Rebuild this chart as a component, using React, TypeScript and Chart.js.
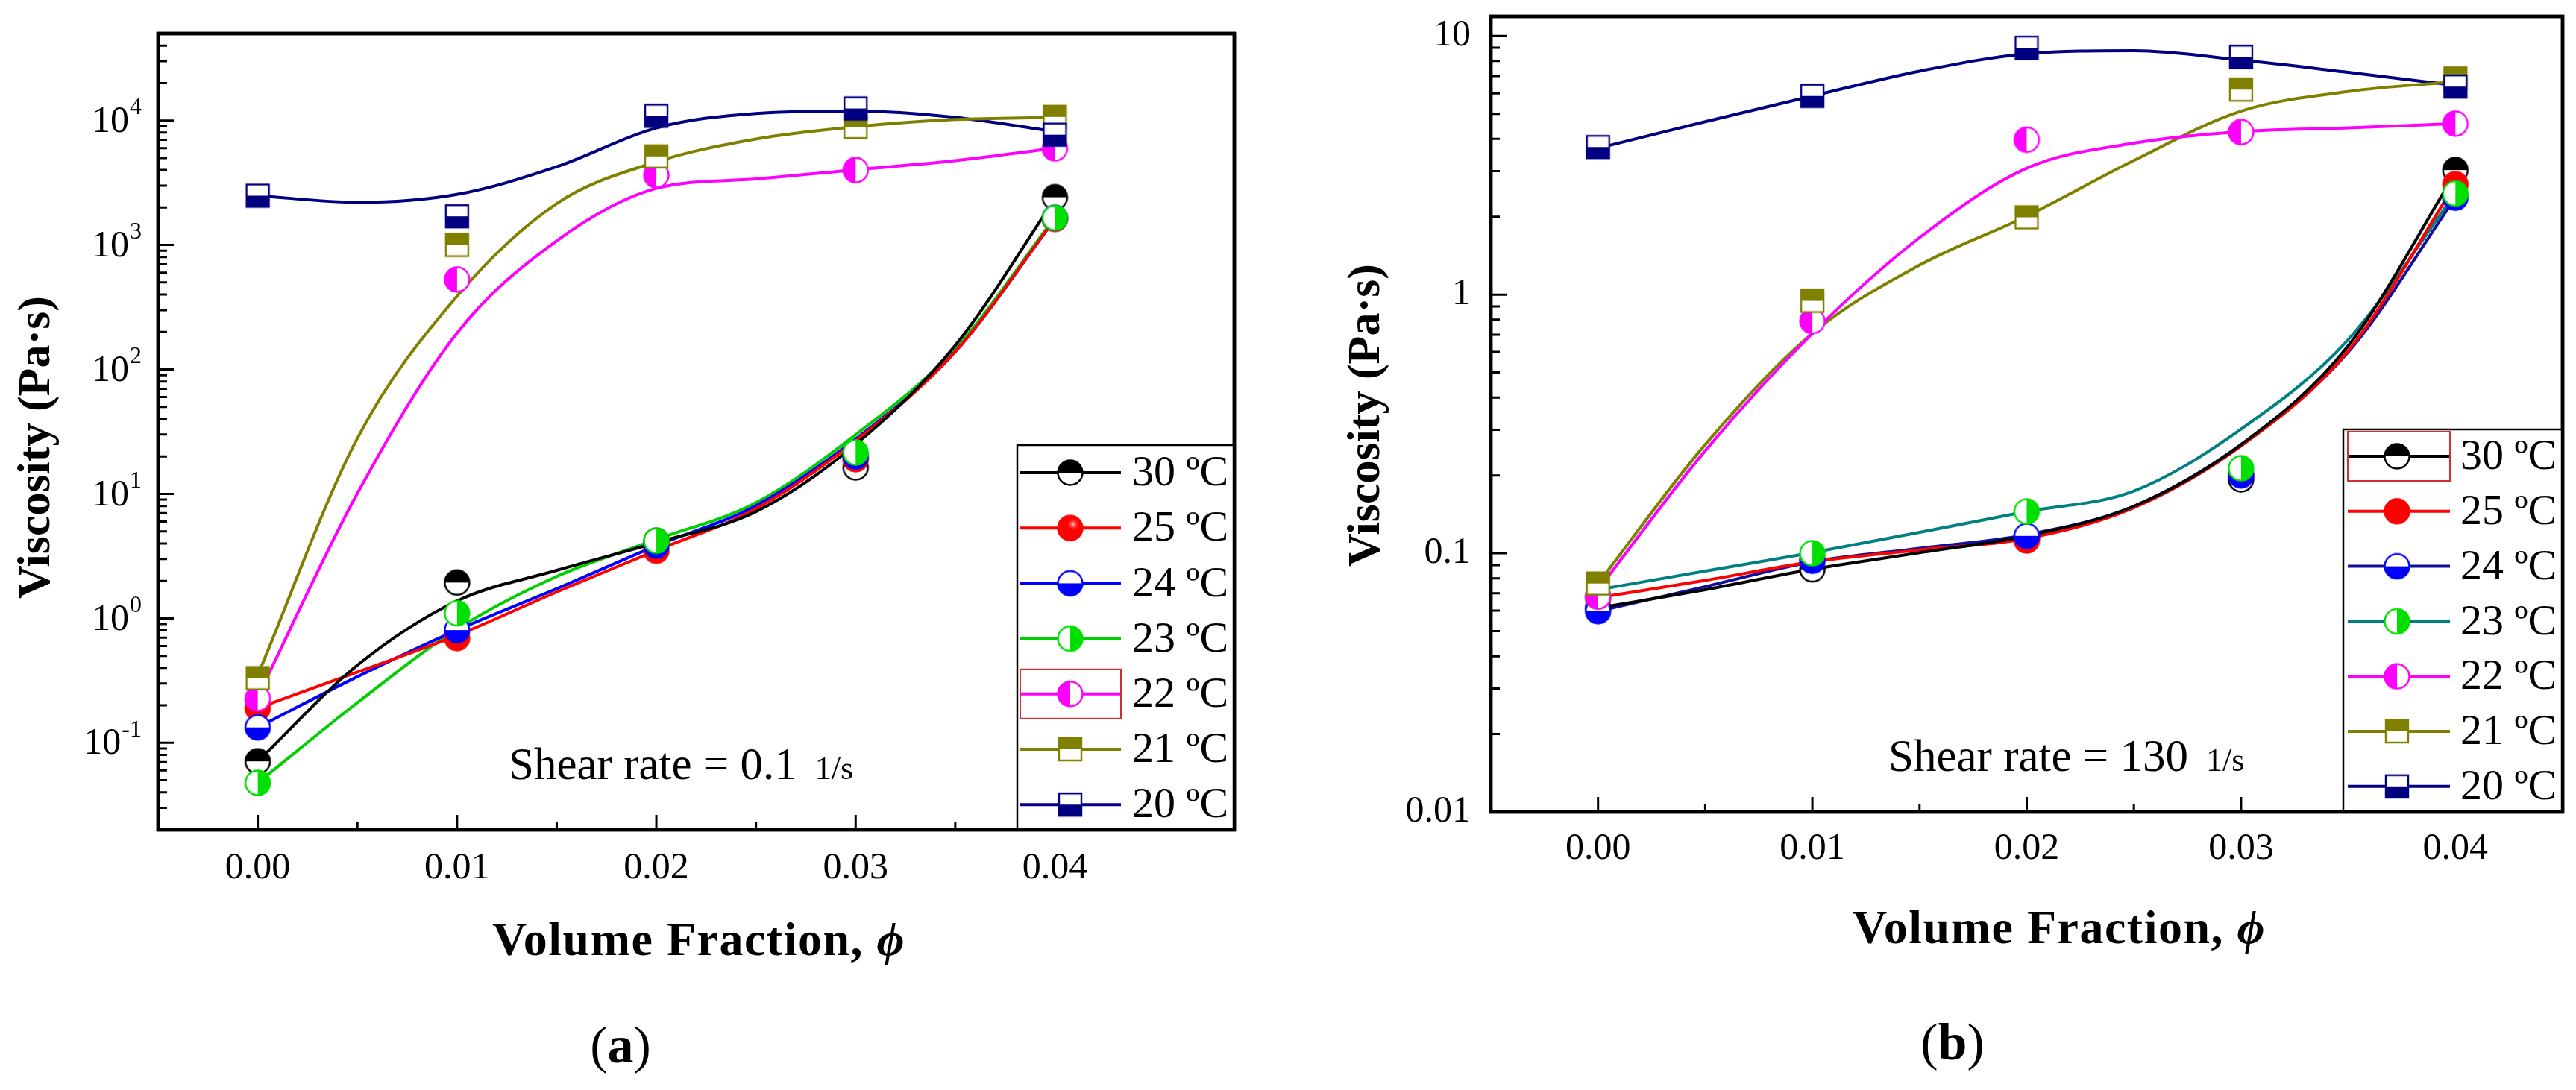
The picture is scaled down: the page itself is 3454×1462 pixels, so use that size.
import React, { useEffect, useRef } from 'react';
import { Chart, registerables } from 'chart.js';

Chart.register(...registerables);

const FONT = '"Liberation Serif", "Times New Roman", serif';
const W = 1727;
const H = 1462;

// ---------- data ----------
const SERIES_A = ['30 ºC', '25 ºC', '24 ºC', '23 ºC', '22 ºC', '21 ºC', '20 ºC'];
const SERIES_B = ['30 ºC', '25 ºC', '24 ºC', '23 ºC', '22 ºC', '21 ºC', '20 ºC'];
const PHI = [0, 0.01, 0.02, 0.03, 0.04];
const PHI_FIT = [0, 0.005, 0.01, 0.015, 0.02, 0.025, 0.03, 0.035, 0.04];
const X_TICKS = [0, 0.01, 0.02, 0.03, 0.04];
const X_MINOR_TICKS = [0.005, 0.015, 0.025, 0.035];
const Y_TICKS_A = [0.1, 1, 10, 100, 1000, 10000];
const Y_EXP_A = ['-1', '0', '1', '2', '3', '4'];
const Y_TICKS_B = [0.01, 0.1, 1, 10];
const Y_LABELS_B = ['0.01', '0.1', '1', '10'];

// (a) shear rate 0.1 1/s : measured points
const A30 = [0.071, 1.94, 4.2, 16.3, 2420];
const A25 = [0.19, 0.695, 3.5, 19, 1620];
const A24 = [0.133, 0.805, 3.84, 20, 1650];
const A23 = [0.0477, 1.1, 4.2, 21.5, 1650];
const A22 = [0.227, 528, 3640, 4000, 5970];
const A21 = [0.331, 1000, 5150, 8900, 10700];
const A20 = [2490, 1700, 10900, 12500, 7700];
// (a) fitted curves
const A30_FIT = [0.071, 0.42, 1.38, 2.43, 4.06, 7.2, 25, 156, 2350];
const A25_FIT = [0.19, 0.37, 0.73, 1.63, 3.51, 7.6, 26.7, 139, 1615];
const A24_FIT = [0.133, 0.34, 0.805, 1.73, 3.84, 8.05, 27.6, 139, 1615];
const A23_FIT = [0.0477, 0.21, 0.82, 2.17, 4.3, 8.5, 29.9, 147, 1670];
const A22_FIT = [0.235, 10.1, 196, 1080, 2850, 3390, 4020, 4760, 5990];
const A21_FIT = [0.35, 28, 388, 2150, 4650, 7100, 8920, 10200, 10600];
const A20_FIT = [2490, 2200, 2550, 4250, 8720, 11400, 11900, 10600, 8150];

// (b) shear rate 130 1/s : measured points
const B30 = [0.0617, 0.0867, 0.115, 0.193, 3.03];
const B25 = [0.0673, 0.095, 0.112, 0.202, 2.67];
const B24 = [0.0597, 0.0935, 0.1167, 0.2, 2.37];
const B23 = [0.068, 0.1, 0.145, 0.213, 2.46];
const B22 = [0.068, 0.79, 3.97, 4.25, 4.58];
const B21 = [0.0764, 0.946, 1.99, 6.2, 6.85];
const B20 = [3.72, 5.86, 9.0, 8.3, 6.37];
// (b) fitted curves
const B30_FIT = [0.0614, 0.0723, 0.0867, 0.1005, 0.1167, 0.152, 0.263, 0.634, 2.95];
const B25_FIT = [0.0674, 0.0785, 0.0927, 0.103, 0.114, 0.15, 0.26, 0.607, 2.67];
const B24_FIT = [0.0597, 0.0743, 0.0927, 0.1045, 0.118, 0.152, 0.263, 0.6, 2.37];
const B23_FIT = [0.0723, 0.0853, 0.1005, 0.1205, 0.145, 0.174, 0.302, 0.67, 2.46];
const B22_FIT = [0.0723, 0.249, 0.708, 1.66, 3.08, 3.85, 4.27, 4.41, 4.58];
const B21_FIT = [0.0764, 0.263, 0.708, 1.3, 2.01, 3.3, 5.12, 6.1, 6.66];
const B20_FIT = [3.68, 4.66, 5.86, 7.31, 8.53, 8.77, 8.07, 7.23, 6.44];

// ---------- styles ----------
const MARKER_SHAPES = ['circle', 'circle', 'circle', 'circle', 'circle', 'square', 'square'];
const MARKER_HALVES = ['top', 'full', 'bottom', 'right', 'left', 'top', 'bottom'];
const MARKER_COLORS = ['#000000', '#ff0000', '#0000ff', '#00e000', '#ff00ff', '#808000', '#000080'];
const LINE_COLORS_A = ['#000000', '#ff0000', '#0000ff', '#00d000', '#ff00ff', '#808000', '#000080'];
const LINE_COLORS_B = ['#000000', '#ff0000', '#10109c', '#008080', '#ff00ff', '#808000', '#000080'];

function makeMarker(shape: string, half: string, color: string, gloss: boolean) {
  const circleD = 33;
  const squareS = 30;
  const s = 40;
  const c = document.createElement('canvas');
  c.width = s;
  c.height = s;
  const ctx = c.getContext('2d') as CanvasRenderingContext2D;
  const cx = s / 2;
  const cy = s / 2;
  const path = () => {
    ctx.beginPath();
    if (shape === 'circle') ctx.arc(cx, cy, circleD / 2, 0, Math.PI * 2);
    else ctx.rect(cx - squareS / 2, cy - squareS / 2, squareS, squareS);
  };
  ctx.fillStyle = '#ffffff';
  path();
  ctx.fill();
  ctx.save();
  path();
  ctx.clip();
  ctx.fillStyle = color;
  if (half === 'full') ctx.fillRect(0, 0, s, s);
  else if (half === 'top') ctx.fillRect(0, 0, s, cy);
  else if (half === 'bottom') ctx.fillRect(0, cy, s, s);
  else if (half === 'left') ctx.fillRect(0, 0, cx, s);
  else if (half === 'right') ctx.fillRect(cx, 0, s, s);
  if (gloss && half === 'full') {
    const g = ctx.createRadialGradient(cx + 4, cy - 5, 0, cx + 4, cy - 5, 9);
    g.addColorStop(0, 'rgba(255,190,190,1)');
    g.addColorStop(1, 'rgba(255,0,0,0)');
    ctx.fillStyle = g;
    ctx.fillRect(0, 0, s, s);
  }
  ctx.restore();
  ctx.lineWidth = 2.4;
  ctx.strokeStyle = color;
  path();
  ctx.stroke();
  return c;
}

const PANEL_A = {
  left: 212, right: 1655, top: 45, bottom: 1113,
  xMax: 0.049, yMin: 0.02, yMax: 50000,
  yTicks: Y_TICKS_A, yExp: Y_EXP_A as string[] | null, yLabels: null as string[] | null,
  points: [A30, A25, A24, A23, A22, A21, A20],
  fits: [A30_FIT, A25_FIT, A24_FIT, A23_FIT, A22_FIT, A21_FIT, A20_FIT],
  names: SERIES_A, lineColors: LINE_COLORS_A, gloss: true,
  legend: { left: 1364, top: 597, row0: 634, step: 74.2, lx0: 1368, lx1: 1503, mx: 1435, tx: 1518, hl: 4 },
  shear: { x: 682, base: 1045, main: 'Shear rate = 0.1', unit: '1/s' },
  yTitle: { x: 50, y: 600 }, xTitle: { x: 937, y: 1264 }, tag: { x: 832, y: 1407, letter: 'a' },
  xTickPad: 22,
};

const PANEL_B = {
  left: 272, right: 1709, top: 22, bottom: 1089,
  xMax: 0.045, yMin: 0.01, yMax: 11.9,
  yTicks: Y_TICKS_B, yExp: null as string[] | null, yLabels: Y_LABELS_B as string[] | null,
  points: [B30, B25, B24, B23, B22, B21, B20],
  fits: [B30_FIT, B25_FIT, B24_FIT, B23_FIT, B22_FIT, B21_FIT, B20_FIT],
  names: SERIES_B, lineColors: LINE_COLORS_B, gloss: false,
  legend: { left: 1415, top: 576, row0: 612, step: 73.8, lx0: 1421, lx1: 1558, mx: 1487, tx: 1572, hl: 0 },
  shear: { x: 805, base: 1034, main: 'Shear rate = 130', unit: '1/s' },
  yTitle: { x: 106, y: 557 }, xTitle: { x: 1034, y: 1248 }, tag: { x: 891, y: 1403, letter: 'b' },
  xTickPad: 20,
};

type Panel = typeof PANEL_A;

function makeDecor(p: Panel, markers: HTMLCanvasElement[]) {
  return {
    id: 'decor',
    beforeDatasetsDraw(chart: any) {
      const ctx = chart.ctx as CanvasRenderingContext2D;
      const a = chart.chartArea;
      const xs = chart.scales.x;
      const ys = chart.scales.y;
      ctx.save();
      ctx.strokeStyle = '#000';
      ctx.lineWidth = 3;
      ctx.beginPath();
      X_TICKS.forEach((v) => {
        const px = xs.getPixelForValue(v);
        ctx.moveTo(px, a.bottom);
        ctx.lineTo(px, a.bottom - 20);
      });
      X_MINOR_TICKS.forEach((v) => {
        const px = xs.getPixelForValue(v);
        ctx.moveTo(px, a.bottom);
        ctx.lineTo(px, a.bottom - 11);
      });
      const e0 = Math.floor(Math.log10(p.yMin));
      const e1 = Math.ceil(Math.log10(p.yMax));
      for (let e = e0; e <= e1; e++) {
        for (let m = 1; m <= 9; m++) {
          const v = m * Math.pow(10, e);
          if (v <= p.yMin * 1.001 || v >= p.yMax * 0.999) continue;
          const py = ys.getPixelForValue(v);
          ctx.moveTo(a.left, py);
          ctx.lineTo(a.left + (m === 1 ? 21 : 12), py);
        }
      }
      ctx.stroke();
      ctx.lineWidth = 4.5;
      ctx.strokeRect(a.left, a.top, a.right - a.left, a.bottom - a.top);
      ctx.restore();
    },
    afterDatasetsDraw(chart: any) {
      const ctx = chart.ctx as CanvasRenderingContext2D;
      const a = chart.chartArea;
      const L = p.legend;
      ctx.save();
      ctx.fillStyle = '#ffffff';
      ctx.fillRect(L.left, L.top, a.right - L.left, a.bottom - L.top);
      ctx.strokeStyle = '#000';
      ctx.lineWidth = 2.5;
      ctx.strokeRect(L.left, L.top, a.right - L.left, a.bottom - L.top);
      ctx.lineWidth = 4.5;
      ctx.strokeRect(a.left, a.top, a.right - a.left, a.bottom - a.top);
      p.names.forEach((name, i) => {
        const y = L.row0 + i * L.step;
        ctx.strokeStyle = p.lineColors[i];
        ctx.lineWidth = 4;
        ctx.beginPath();
        ctx.moveTo(L.lx0, y);
        ctx.lineTo(L.lx1, y);
        ctx.stroke();
        const m = markers[i];
        ctx.drawImage(m, L.mx - m.width / 2, y - m.height / 2);
        ctx.fillStyle = '#000';
        ctx.font = `58px ${FONT}`;
        ctx.textAlign = 'left';
        ctx.textBaseline = 'middle';
        ctx.fillText(name, L.tx, y + 2);
        if (i === L.hl) {
          ctx.strokeStyle = '#d03030';
          ctx.lineWidth = 2;
          ctx.strokeRect(L.lx0, y - 33, L.lx1 - L.lx0, 66);
        }
      });
      ctx.restore();
    },
    afterDraw(chart: any) {
      const ctx = chart.ctx as CanvasRenderingContext2D;
      const a = chart.chartArea;
      const ys = chart.scales.y;
      ctx.save();
      ctx.fillStyle = '#000';
      // y tick labels with superscripts (panel a)
      if (p.yExp) {
        const right = a.left - 22;
        p.yTicks.forEach((v, i) => {
          const py = ys.getPixelForValue(v);
          ctx.textBaseline = 'middle';
          ctx.textAlign = 'right';
          ctx.font = `32px ${FONT}`;
          const ew = ctx.measureText(p.yExp![i]).width;
          ctx.fillText(p.yExp![i], right, py - 17);
          ctx.font = `50px ${FONT}`;
          ctx.fillText('10', right - ew - 1, py + 2);
        });
      }
      // y title
      ctx.save();
      ctx.translate(p.yTitle.x, p.yTitle.y);
      ctx.rotate(-Math.PI / 2);
      ctx.font = `bold 62px ${FONT}`;
      ctx.textAlign = 'center';
      ctx.textBaseline = 'middle';
      ctx.fillText('Viscosity (Pa·s)', 0, 0);
      ctx.restore();
      // x title
      ctx.save();
      (ctx as any).letterSpacing = '1.5px';
      ctx.textBaseline = 'middle';
      ctx.textAlign = 'left';
      const t1 = 'Volume Fraction, ';
      const t2 = 'ϕ';
      ctx.font = `bold 64px ${FONT}`;
      const w1 = ctx.measureText(t1).width;
      ctx.font = `italic bold 64px ${FONT}`;
      const w2 = ctx.measureText(t2).width;
      let x0 = p.xTitle.x - (w1 + w2) / 2;
      ctx.font = `bold 64px ${FONT}`;
      ctx.fillText(t1, x0, p.xTitle.y);
      ctx.font = `italic bold 64px ${FONT}`;
      ctx.fillText(t2, x0 + w1, p.xTitle.y);
      ctx.restore();
      // shear rate annotation
      ctx.textAlign = 'left';
      ctx.textBaseline = 'alphabetic';
      ctx.font = `61px ${FONT}`;
      const sw = ctx.measureText(p.shear.main).width;
      ctx.fillText(p.shear.main, p.shear.x, p.shear.base);
      ctx.font = `44px ${FONT}`;
      ctx.fillText(p.shear.unit, p.shear.x + sw + 24, p.shear.base);
      // panel tag
      ctx.textBaseline = 'middle';
      ctx.font = `70px ${FONT}`;
      const pw = ctx.measureText('(').width;
      const cw = ctx.measureText(')').width;
      ctx.font = `bold 70px ${FONT}`;
      const lw = ctx.measureText(p.tag.letter).width;
      x0 = p.tag.x - (pw + lw + cw) / 2;
      ctx.font = `70px ${FONT}`;
      ctx.fillText('(', x0, p.tag.y);
      ctx.fillText(')', x0 + pw + lw, p.tag.y);
      ctx.font = `bold 70px ${FONT}`;
      ctx.fillText(p.tag.letter, x0 + pw, p.tag.y);
      ctx.restore();
    },
  };
}

function buildConfig(p: Panel): any {
  const markers = p.points.map((_, i) => makeMarker(MARKER_SHAPES[i], MARKER_HALVES[i], MARKER_COLORS[i], p.gloss));
  const lineSets = p.fits.map((arr, i) => ({
    type: 'line',
    label: p.names[i] + ' fit',
    data: PHI_FIT.map((x, j) => ({ x, y: arr[j] })),
    borderColor: p.lineColors[i],
    borderWidth: 4,
    pointRadius: 0,
    cubicInterpolationMode: 'monotone',
    fill: false,
    order: 20 + i,
  }));
  const pointSets = p.points.map((arr, i) => ({
    type: 'line',
    label: p.names[i],
    data: PHI.map((x, j) => ({ x, y: arr[j] })),
    showLine: false,
    pointStyle: markers[i],
    pointRadius: 17,
    order: 6 - i,
  }));
  const zeroPad = (s: any) => {
    s.paddingLeft = 0;
    s.paddingRight = 0;
    s.paddingTop = 0;
    s.paddingBottom = 0;
  };
  return {
    type: 'line',
    data: { datasets: [...pointSets, ...lineSets] },
    options: {
      responsive: false,
      maintainAspectRatio: false,
      animation: false,
      devicePixelRatio: 1,
      events: [],
      layout: { padding: { left: 0, top: p.top, right: W - p.right, bottom: 0 } },
      plugins: { legend: { display: false }, tooltip: { enabled: false }, title: { display: false } },
      scales: {
        x: {
          type: 'linear',
          min: -0.005,
          max: p.xMax,
          grid: { display: false, drawTicks: false },
          border: { display: false },
          afterBuildTicks: (s: any) => {
            s.ticks = X_TICKS.map((v) => ({ value: v }));
          },
          ticks: {
            autoSkip: false,
            maxRotation: 0,
            minRotation: 0,
            padding: p.xTickPad,
            color: '#000',
            font: { family: FONT, size: 50 },
            callback: (v: any) => Number(v).toFixed(2),
          },
          afterFit: (s: any) => {
            s.height = H - p.bottom;
            zeroPad(s);
          },
        },
        y: {
          type: 'logarithmic',
          min: p.yMin,
          max: p.yMax,
          grid: { display: false, drawTicks: false },
          border: { display: false },
          afterBuildTicks: (s: any) => {
            s.ticks = p.yTicks.map((v) => ({ value: v }));
          },
          ticks: {
            display: p.yLabels != null,
            autoSkip: false,
            padding: 27,
            color: '#000',
            font: { family: FONT, size: 50 },
            callback: (_v: any, i: number) => (p.yLabels ? p.yLabels[i] : ''),
          },
          afterFit: (s: any) => {
            s.width = p.left;
            zeroPad(s);
          },
        },
      },
    },
    plugins: [makeDecor(p, markers)],
  };
}

export default function App() {
  const refA = useRef<HTMLCanvasElement>(null);
  const refB = useRef<HTMLCanvasElement>(null);
  useEffect(() => {
    const charts = [
      new Chart(refA.current as HTMLCanvasElement, buildConfig(PANEL_A)),
      new Chart(refB.current as HTMLCanvasElement, buildConfig(PANEL_B)),
    ];
    return () => charts.forEach((c) => c.destroy());
  }, []);
  return (
    <div style={{ position: 'absolute', left: 0, top: 0, width: 3454, height: 1462, background: '#fff', overflow: 'hidden' }}>
      <canvas ref={refA} width={W} height={H} style={{ position: 'absolute', left: 0, top: 0, width: W, height: H }} />
      <canvas ref={refB} width={W} height={H} style={{ position: 'absolute', left: W, top: 0, width: W, height: H }} />
    </div>
  );
}
